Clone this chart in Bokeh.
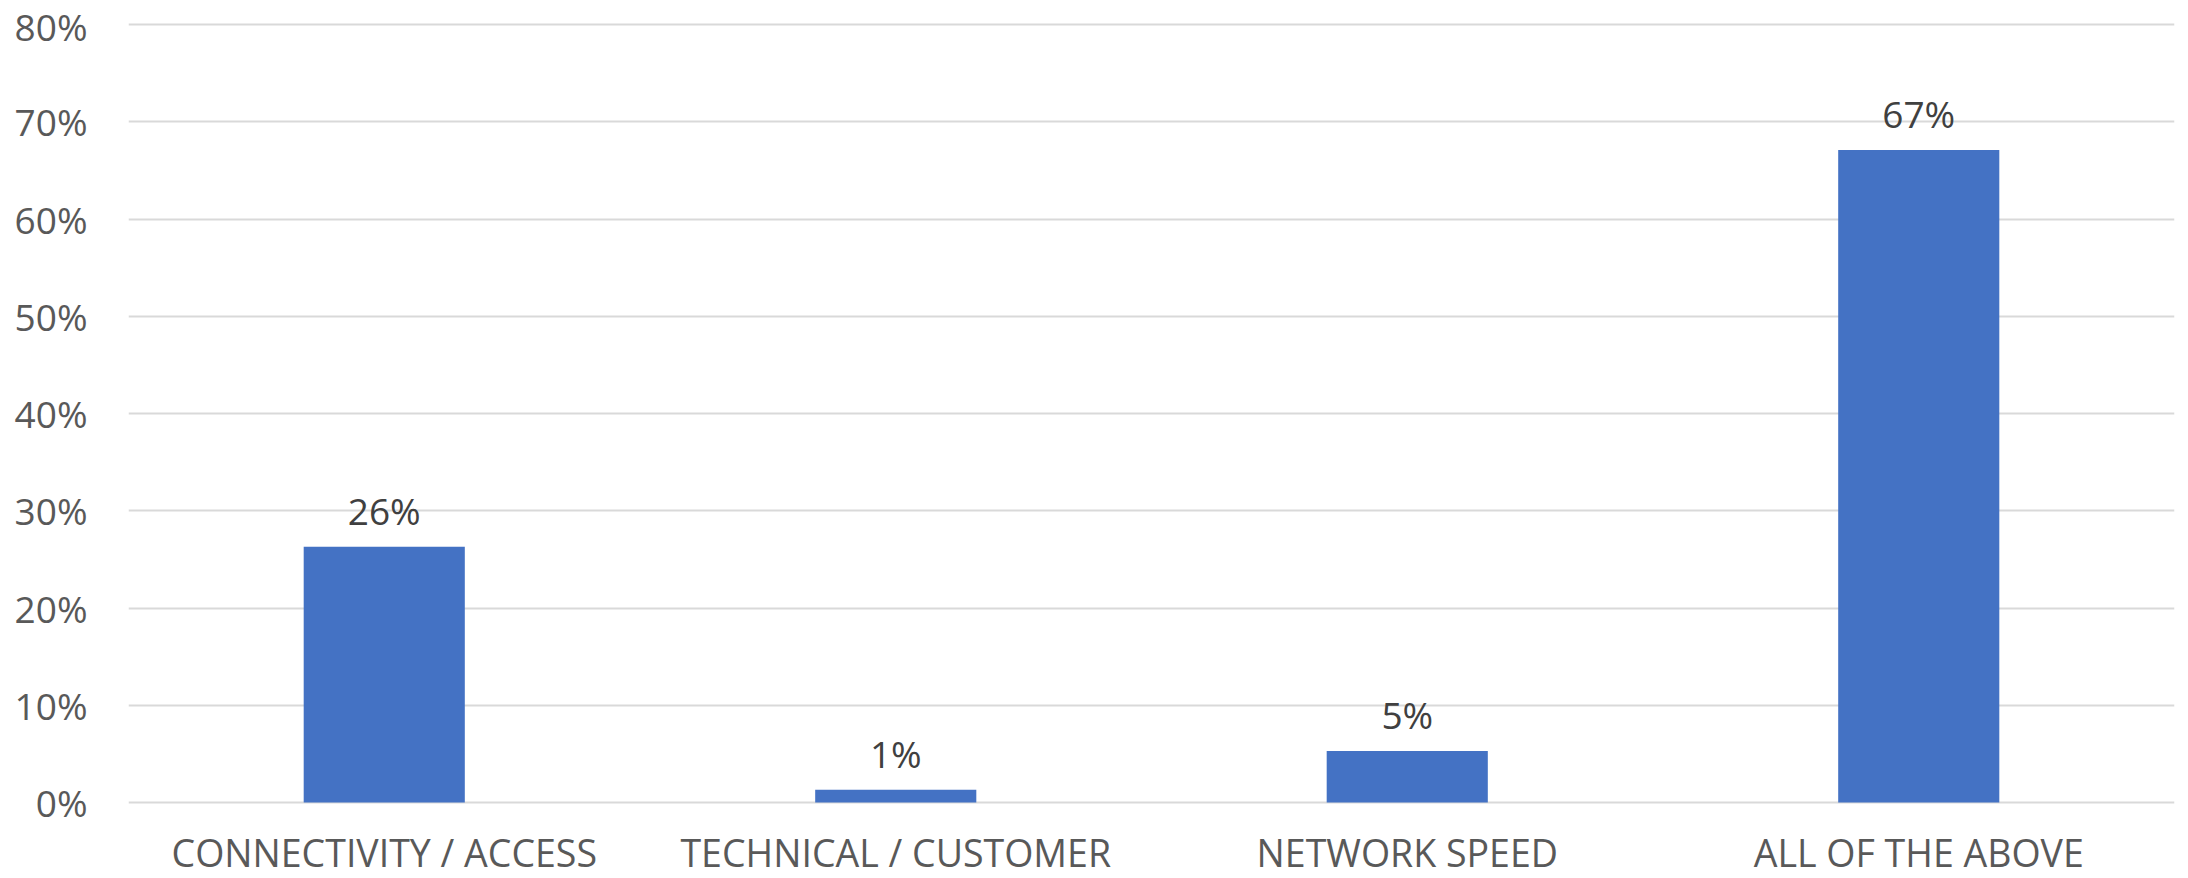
from bokeh.plotting import figure
from bokeh.models import FactorRange, ColumnDataSource, NumeralTickFormatter, FixedTicker, LabelSet, Range1d
from bokeh.core.properties import value
from bokeh.embed import file_html
from bokeh.resources import INLINE

categories = ["CONNECTIVITY / ACCESS", "TECHNICAL / CUSTOMER", "NETWORK SPEED", "ALL OF THE ABOVE"]
values = [0.263, 0.013, 0.053, 0.671]
labels = ["26%", "1%", "5%", "67%"]
y_ticks = [0, 0.1, 0.2, 0.3, 0.4, 0.5, 0.6, 0.7, 0.8]

FONT = "Open Sans"

# layout geometry (pixels)
W, H = 2188, 878
TOP_PAD, BOTTOM_PAD = 24, 76
px_per_unit = (H - TOP_PAD - BOTTOM_PAD) / 0.8
y_range = Range1d(-BOTTOM_PAD / px_per_unit, 0.8 + TOP_PAD / px_per_unit)

src = ColumnDataSource(dict(cat=categories, val=values, lab=labels, zero=[0] * len(categories)))

p = figure(x_range=FactorRange(*categories, range_padding=0), y_range=y_range,
           width=W, height=H, output_backend="svg", toolbar_location=None,
           min_border_left=128, min_border_right=14, min_border_top=0, min_border_bottom=0)
p.outline_line_color = None
p.vbar(x="cat", top="val", width=0.315, source=src, fill_color="#4472C4", line_color=None)

labs = LabelSet(x="cat", y="val", text="lab", source=src, text_align="center",
                text_baseline="alphabetic", y_offset=22, text_font=value(FONT),
                text_font_size="37px", text_color="#404040")
p.add_layout(labs)

xlabs = LabelSet(x="cat", y="zero", text="cat", source=src, text_align="center",
                 text_baseline="alphabetic", y_offset=-64, text_font=value(FONT),
                 text_font_size="37.5px", text_color="#595959")
p.add_layout(xlabs)
p.xaxis.visible = False

p.yaxis.ticker = FixedTicker(ticks=y_ticks)
p.yaxis.formatter = NumeralTickFormatter(format="0%")
p.yaxis.axis_line_color = None
p.yaxis.major_tick_line_color = None
p.yaxis.minor_tick_line_color = None
p.yaxis.major_tick_out = 0
p.yaxis.major_tick_in = 0
p.yaxis.minor_tick_out = 0
p.yaxis.minor_tick_in = 0
p.yaxis.major_label_text_font = FONT
p.yaxis.major_label_text_color = "#595959"
p.yaxis.major_label_text_line_height = 0.3
p.yaxis.major_label_text_font_size = "37px"
p.yaxis.major_label_standoff = 41
p.xgrid.grid_line_color = None
p.ygrid.grid_line_color = "#D9D9D9"
p.ygrid.grid_line_width = 2

open("out.html", "w").write(file_html(p, INLINE))
